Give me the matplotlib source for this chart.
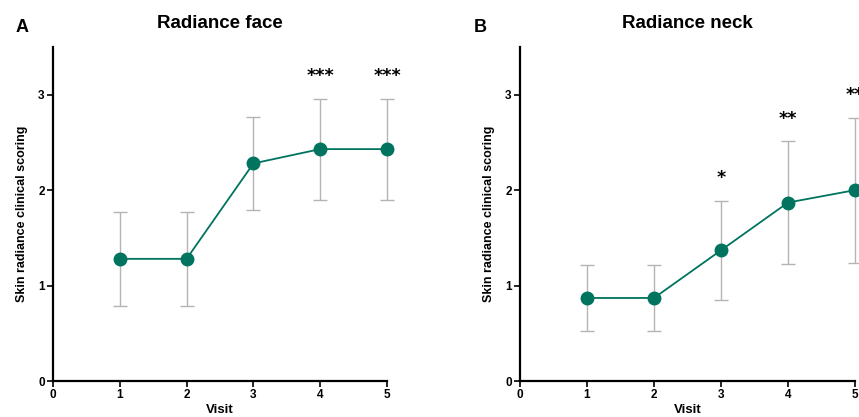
import matplotlib
matplotlib.use("Agg")
import matplotlib.pyplot as plt

# values
visits = [1, 2, 3, 4, 5]
face_mean = [1.28, 1.28, 2.28, 2.43, 2.43]
face_sd = [0.49, 0.49, 0.49, 0.53, 0.53]
face_stars = ["", "", "", "***", "***"]
neck_mean = [0.87, 0.87, 1.37, 1.87, 2.00]
neck_sd = [0.35, 0.35, 0.52, 0.64, 0.76]
neck_stars = ["", "", "*", "**", "**"]

TEAL = "#00745f"
GREY = "#b4b4b4"

plt.rcParams["font.family"] = ["Liberation Sans", "DejaVu Sans"]
fig = plt.figure(figsize=(8.59, 4.17), dpi=100)


def panel(rect, mean, sd, stars, title, letter, letter_x):
    ax = fig.add_axes(rect)
    eb = ax.errorbar(visits, mean, yerr=sd, fmt="none", ecolor=GREY, elinewidth=1.0,
                     capsize=5, capthick=1.0, zorder=1)
    for art in eb.lines[1] + eb.lines[2]:
        art.set_clip_on(False)
    ax.plot(visits, mean, color=TEAL, lw=1.3, marker="o", ms=9,
            markerfacecolor=TEAL, markeredgecolor=TEAL, zorder=3, clip_on=False)
    for x, m, s, st in zip(visits, mean, sd, stars):
        if st:
            ax.text(x, m + s + 0.24, st, ha="center", va="center",
                    fontsize=12.5, fontweight="bold", family="DejaVu Sans", clip_on=False)
    ax.set_xlim(0, 5)
    ax.set_ylim(0, 3.5)
    ax.set_xticks(range(6))
    ax.set_yticks(range(4))
    for side in ("top", "right"):
        ax.spines[side].set_visible(False)
    for side in ("left", "bottom"):
        ax.spines[side].set_linewidth(1.6)
    ax.tick_params(width=1.2, length=4, labelsize=8.5, pad=2)
    for lab in ax.get_xticklabels() + ax.get_yticklabels():
        lab.set_fontweight("bold")
    ax.set_xlabel("Visit", fontsize=9.5, fontweight="bold", labelpad=2)
    ax.set_ylabel("Skin radiance clinical scoring", fontsize=9, fontweight="bold", labelpad=7)
    fig.text(rect[0] + rect[2] / 2, 1 - 24 / 417, title, ha="center", va="center",
             fontsize=13.5, fontweight="bold")
    fig.text(letter_x, 1 - 27 / 417, letter, ha="center", va="center",
             fontsize=13, fontweight="bold")
    return ax


panel([53 / 859, 36 / 417, 334 / 859, 334 / 417], face_mean, face_sd, face_stars,
      "Radiance face", "A", 22 / 859)
panel([520 / 859, 36 / 417, 335 / 859, 334 / 417], neck_mean, neck_sd, neck_stars,
      "Radiance neck", "B", 480 / 859)

fig.savefig("out.png", dpi=100)
